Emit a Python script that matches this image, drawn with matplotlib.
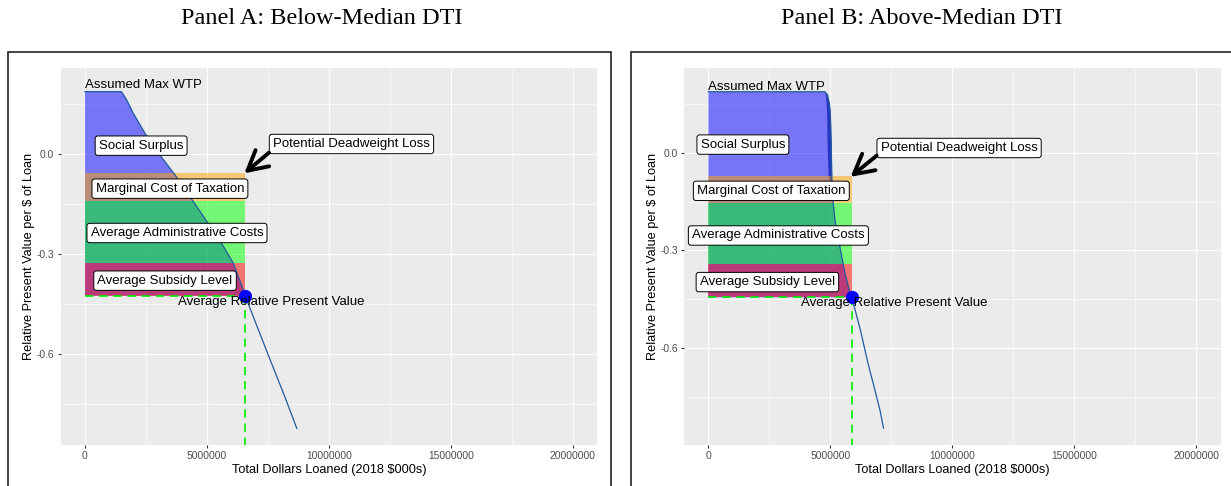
import numpy as np
import matplotlib
matplotlib.use("Agg")
import matplotlib.pyplot as plt
from matplotlib.patches import Rectangle

plt.rcParams['font.family'] = ['Liberation Sans', 'DejaVu Sans']

# ---------------- data ----------------
panel_titles = ["Panel A: Below-Median DTI", "Panel B: Above-Median DTI"]
x_ticks = [0, 5000000, 10000000, 15000000, 20000000]
x_tick_labels = ["0", "5000000", "10000000", "15000000", "20000000"]
y_ticks = [0.0, -0.3, -0.6]
y_tick_labels = ["0.0", "-0.3", "-0.6"]
x_minor = [2500000, 7500000, 12500000, 17500000]
y_minor = [0.15, -0.15, -0.45, -0.75]

label_names = ["Social Surplus", "Marginal Cost of Taxation",
               "Average Administrative Costs", "Average Subsidy Level",
               "Potential Deadweight Loss"]
band_colors = ["orange", "#00FF00", "red"]

# Panel A (below-median DTI)
a_demand_x = [0, 1500000, 1710000, 1980000, 2460000, 3070000, 3690000, 4440000,
              5050000, 5600000, 6080000, 6490000, 6560000, 7570000, 8140000, 8680000]
a_demand_y = [0.188, 0.188, 0.163, 0.123, 0.063, -0.002, -0.062, -0.142,
              -0.207, -0.267, -0.327, -0.407, -0.424, -0.613, -0.718, -0.822]
a_band_edges = [-0.057, -0.140, -0.327, -0.424]
a_q_star = 6560000
a_p_star = -0.424
a_max_wtp = 0.188
a_label_x = [2300000, 3480000, 3770000, 3280000, 10920000]
a_label_y = [0.026, -0.103, -0.236, -0.379, 0.031]
a_arrow_from = (7540000, 0.005)
a_arrow_to = (6530000, -0.057)
a_wtp_text_y = 0.208
a_rpv_text = (7620000, -0.443)
a_ylim = (-0.872, 0.259)

# Panel B (above-median DTI)
b_demand_x = [0, 4780000, 4880000, 4960000, 5000000, 5040000, 5060000, 5080000,
              5190000, 5390000, 5600000, 5810000, 5875000, 6050000, 6236000,
              6544000, 6830000, 7036000, 7180000]
b_demand_y = [0.187, 0.187, 0.178, 0.152, 0.120, 0.018, -0.074, -0.125,
              -0.206, -0.288, -0.370, -0.431, -0.4436, -0.492, -0.545,
              -0.646, -0.729, -0.790, -0.845]
b_fold_y = [0.187, 0.152, 0.122, 0.018, -0.074, -0.120]
b_fold_left = [4780000, 4830000, 4850000, 4870000, 4915000, 4950000]
b_fold_right = [4800000, 4960000, 5000000, 5040000, 5060000, 5078000]
b_band_edges = [-0.0715, -0.155, -0.341, -0.4436]
b_q_star = 5875000
b_p_star = -0.4436
b_max_wtp = 0.187
b_label_x = [1415000, 2580000, 2870000, 2420000, 10280000]
b_label_y = [0.025, -0.117, -0.254, -0.397, 0.0145]
b_arrow_from = (6900000, -0.009)
b_arrow_to = (5830000, -0.074)
b_wtp_text_y = 0.203
b_rpv_text = (7630000, -0.461)
b_ylim = (-0.897, 0.260)

# ---------------- figure ----------------
W, H = 1231, 486
fig = plt.figure(figsize=(W / 100, H / 100), dpi=100)


def fx(px):
    return px / W


def fy(py):
    return 1 - py / H


line_col = "#215a9e"


def draw_panel(ax, dem_x, dem_y, edges, q_star, p_star, max_wtp, lab_x, lab_y,
               arr_from, arr_to, wtp_y, rpv_xy, ylim, fold=None):
    ax.set_facecolor("#EBEBEB")
    for s in ax.spines.values():
        s.set_visible(False)
    ax.set_xlim(-1000000, 21000000)
    ax.set_ylim(*ylim)
    ax.set_xticks(x_ticks)
    ax.set_xticklabels(x_tick_labels)
    ax.set_yticks(y_ticks)
    ax.set_yticklabels(y_tick_labels)
    ax.set_xticks(x_minor, minor=True)
    ax.set_yticks(y_minor, minor=True)
    ax.tick_params(which="major", length=2.5, width=0.8, color="#333333",
                   labelcolor="#4D4D4D", labelsize=7.4, pad=2)
    ax.tick_params(which="minor", length=0)
    ax.grid(which="major", color="white", lw=0.85)
    ax.grid(which="minor", color="white", lw=0.4)
    ax.set_axisbelow(True)

    dx = np.asarray(dem_x, dtype=float)
    dy = np.asarray(dem_y, dtype=float)
    # area under demand curve (social value), down to average RPV
    m = dx <= q_star
    px = np.concatenate([dx[m], [q_star, 0]])
    py = np.concatenate([np.minimum(dy[m], max_wtp), [p_star, p_star]])
    ax.fill(px, py, color="blue", alpha=0.5, lw=0, zorder=2)
    if fold is not None:
        fyy, fl, fr = fold
        ax.fill_betweenx(fyy, fl, fr, color="#0a1fb0", alpha=0.75, lw=0, zorder=2.1)
    # cost bands
    for i, c in enumerate(band_colors):
        ax.fill_between([0, q_star], edges[i + 1], edges[i], color=c, alpha=0.5,
                        lw=0, zorder=3)
    # dashed guides
    ax.plot([0, q_star], [p_star, p_star], color="#00EE00", lw=1.2,
            dashes=(5, 3.5), zorder=4)
    ax.plot([q_star, q_star], [p_star, ylim[0]], color="#00EE00", lw=1.2,
            dashes=(5, 3.5), zorder=4)
    # demand curve
    ax.plot(dx, dy, color=line_col, lw=0.9, zorder=5)
    ax.plot([q_star], [p_star], "o", color="blue", ms=8.5, zorder=6)

    ax.text(0, wtp_y, "Assumed Max WTP", fontsize=9.5, ha="left", va="center",
            zorder=7)
    ax.text(rpv_xy[0], rpv_xy[1], "Average Relative Present Value", fontsize=9.5,
            ha="center", va="center", zorder=7)
    for name, lx, ly in zip(label_names, lab_x, lab_y):
        ax.text(lx, ly, name, fontsize=9.5, ha="center", va="center", zorder=8,
                bbox=dict(boxstyle="round,pad=0.28,rounding_size=0.2",
                          fc="white", ec="black", lw=0.7))
    ax.annotate("", xy=arr_to, xytext=arr_from, zorder=9,
                arrowprops=dict(arrowstyle="->,head_length=0.7,head_width=0.38",
                                lw=2.8, color="black", shrinkA=0, shrinkB=0,
                                mutation_scale=20))
    ax.set_xlabel("Total Dollars Loaned (2018 \\$000s)", fontsize=9.2, labelpad=2)
    ax.set_ylabel("Relative Present Value per \\$ of Loan", fontsize=9.2, labelpad=1)


# frames
fig.add_artist(Rectangle((fx(8), -0.2), fx(611) - fx(8), fy(52) + 0.2,
                         transform=fig.transFigure, fill=False, ec="#222222", lw=1.2))
fig.add_artist(Rectangle((fx(631), -0.2), fx(1240) - fx(631), fy(52) + 0.2,
                         transform=fig.transFigure, fill=False, ec="#222222", lw=1.2))

axA = fig.add_axes([fx(60.6), fy(445), fx(597.4) - fx(60.6), fy(68) - fy(445)])
draw_panel(axA, a_demand_x, a_demand_y, a_band_edges, a_q_star, a_p_star, a_max_wtp,
           a_label_x, a_label_y, a_arrow_from, a_arrow_to, a_wtp_text_y, a_rpv_text,
           a_ylim)

axB = fig.add_axes([fx(684), fy(445), fx(1220.5) - fx(684), fy(68) - fy(445)])
draw_panel(axB, b_demand_x, b_demand_y, b_band_edges, b_q_star, b_p_star, b_max_wtp,
           b_label_x, b_label_y, b_arrow_from, b_arrow_to, b_wtp_text_y, b_rpv_text,
           b_ylim, fold=(b_fold_y, b_fold_left, b_fold_right))

fig.text(fx(322), fy(19), panel_titles[0], family=["Liberation Serif"], fontsize=17.5,
         ha="center", va="center")
fig.text(fx(922), fy(19), panel_titles[1], family=["Liberation Serif"], fontsize=17.5,
         ha="center", va="center")

fig.savefig("out.png", dpi=100)
